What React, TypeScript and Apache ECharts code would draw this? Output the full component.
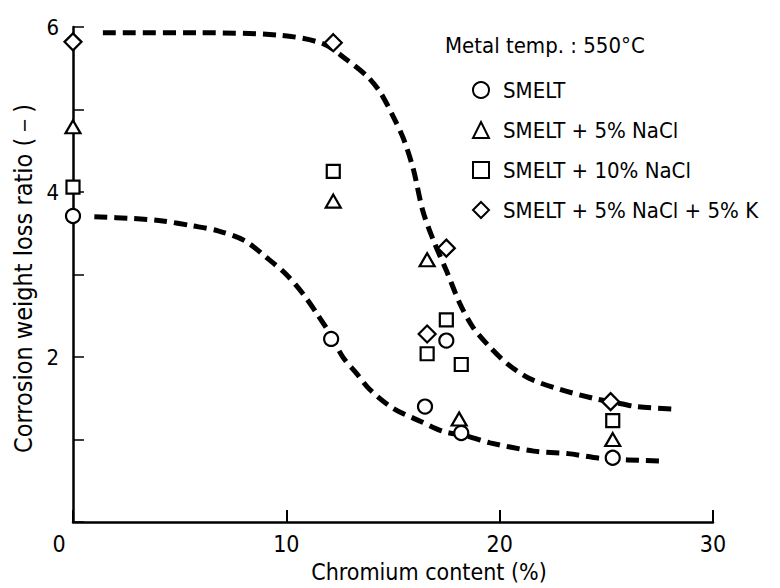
import React, { useEffect, useRef } from "react";
import * as echarts from "echarts";

const FONT = "'Liberation Sans Narrow', 'DejaVu Sans Condensed', sans-serif";

const seriesNames = [
  "SMELT",
  "SMELT + 5% NaCl",
  "SMELT + 10% NaCl",
  "SMELT + 5% NaCl + 5% K",
];

// [Cr content %, corrosion weight loss ratio]
const smelt: number[][] = [
  [0, 3.71], [12.1, 2.22], [16.5, 1.4], [17.5, 2.2], [18.2, 1.08], [25.3, 0.78],
];
const smeltNaCl5: number[][] = [
  [0, 4.79], [12.2, 3.89], [16.6, 3.18], [18.1, 1.25], [25.3, 1.0],
];
const smeltNaCl10: number[][] = [
  [0, 4.06], [12.2, 4.25], [17.5, 2.45], [16.6, 2.04], [18.2, 1.91], [25.3, 1.23],
];
const smeltNaClK: number[][] = [
  [0, 5.82], [12.2, 5.81], [17.5, 3.32], [16.6, 2.28], [25.2, 1.46],
];

const upperCurve: number[][] = [
  [1.4, 5.93], [5.9, 5.93], [9.7, 5.9], [11.7, 5.8], [12.85, 5.6], [13.8, 5.4],
  [14.4, 5.21], [15.0, 4.92], [15.5, 4.64], [15.95, 4.28], [16.4, 3.77],
  [16.9, 3.41], [17.5, 3.05], [18.15, 2.64], [18.75, 2.36], [19.4, 2.16],
  [20.35, 1.92], [21.4, 1.74], [22.8, 1.61], [24.4, 1.5], [25.2, 1.46],
  [26.4, 1.4], [28.2, 1.37],
];
const lowerCurve: number[][] = [
  [1.0, 3.7], [2.8, 3.68], [4.2, 3.65], [5.6, 3.59], [6.8, 3.53], [8.05, 3.41],
  [9.1, 3.2], [10.0, 3.0], [10.8, 2.76], [11.45, 2.52], [12.05, 2.28],
  [12.65, 2.0], [13.3, 1.8], [13.9, 1.61], [15.0, 1.38], [16.3, 1.22],
  [17.35, 1.1], [18.5, 1.04], [19.55, 0.96], [21.6, 0.86], [23.2, 0.83],
  [24.85, 0.77], [27.5, 0.74],
];

const yLabelValues = [2, 4, 6];

export default function App() {
  const ref = useRef<HTMLDivElement>(null);
  useEffect(() => {
    if (!ref.current) return;
    const chart = echarts.init(ref.current, undefined, { renderer: "svg" });
    const markerStyle = { color: "#fff", borderColor: "#000", borderWidth: 2.2, opacity: 1 };
    const curveStyle = { color: "#000", width: 5, type: [13, 7] as any };
    chart.setOption({
      animation: false,
      backgroundColor: "#fff",
      textStyle: { fontFamily: FONT, color: "#000" },
      grid: { left: 73, right: 67, top: 27, bottom: 62 },
      legend: {
        data: seriesNames,
        orient: "vertical",
        left: 467,
        top: 73,
        itemWidth: 16,
        itemHeight: 16,
        itemGap: 16,
        selectedMode: false,
        textStyle: { fontFamily: FONT, fontSize: 22, color: "#000", lineHeight: 24, padding: [0, 0, 0, 9] },
      },
      graphic: [
        {
          type: "text",
          left: 445,
          top: 34,
          style: { text: "Metal temp. : 550°C", font: `22px ${FONT}`, fill: "#000" },
        },
      ],
      xAxis: {
        type: "value",
        min: 0,
        max: 30,
        interval: 10,
        name: "Chromium content (%)",
        nameLocation: "middle",
        nameGap: 36,
        nameTextStyle: { fontFamily: FONT, fontSize: 23, color: "#000", padding: [0, 0, 0, 72] },
        axisLine: { show: true, lineStyle: { color: "#000", width: 2.5 } },
        axisTick: { show: true, inside: true, length: 12, lineStyle: { color: "#000", width: 2 } },
        axisLabel: {
          fontFamily: FONT,
          fontSize: 23,
          color: "#000",
          margin: 10,
          formatter: (v: number) => (v === 0 ? "{z|0}" : String(v)),
          rich: { z: { fontFamily: FONT, fontSize: 23, color: "#000", padding: [0, 28, 0, 0] } },
        },
        splitLine: { show: false },
      },
      yAxis: {
        type: "value",
        min: 0,
        max: 6,
        interval: 1,
        name: "Corrosion weight loss ratio (－)",
        nameLocation: "middle",
        nameGap: 31,
        nameTextStyle: { fontFamily: FONT, fontSize: 25, color: "#000", padding: [0, 8, 0, 0] },
        axisLine: { show: true, lineStyle: { color: "#000", width: 2.5 } },
        axisTick: { show: true, inside: true, length: 11, lineStyle: { color: "#000", width: 1.5 } },
        axisLabel: {
          fontFamily: FONT,
          fontSize: 22,
          color: "#000",
          margin: 14,
          formatter: (v: number) => (yLabelValues.includes(v) ? String(v) : ""),
        },
        splitLine: { show: false },
      },
      series: [
        {
          type: "line",
          data: upperCurve,
          smooth: 0.3,
          showSymbol: false,
          lineStyle: curveStyle,
          z: 1,
          silent: true,
        },
        {
          type: "line",
          data: lowerCurve,
          smooth: 0.3,
          showSymbol: false,
          lineStyle: curveStyle,
          z: 1,
          silent: true,
        },
        { name: seriesNames[0], type: "scatter", data: smelt, symbol: "circle", symbolSize: 14, itemStyle: markerStyle, z: 5 },
        { name: seriesNames[1], type: "scatter", data: smeltNaCl5, symbol: "triangle", symbolSize: [15, 13], itemStyle: markerStyle, z: 5 },
        { name: seriesNames[2], type: "scatter", data: smeltNaCl10, symbol: "rect", symbolSize: 13, itemStyle: markerStyle, z: 5 },
        { name: seriesNames[3], type: "scatter", data: smeltNaClK, symbol: "diamond", symbolSize: 17, itemStyle: markerStyle, z: 5 },
      ],
    });
    return () => chart.dispose();
  }, []);
  return (
    <div
      ref={ref}
      style={{ position: "absolute", left: 0, top: 0, width: 780, height: 588, background: "#fff" }}
    />
  );
}
